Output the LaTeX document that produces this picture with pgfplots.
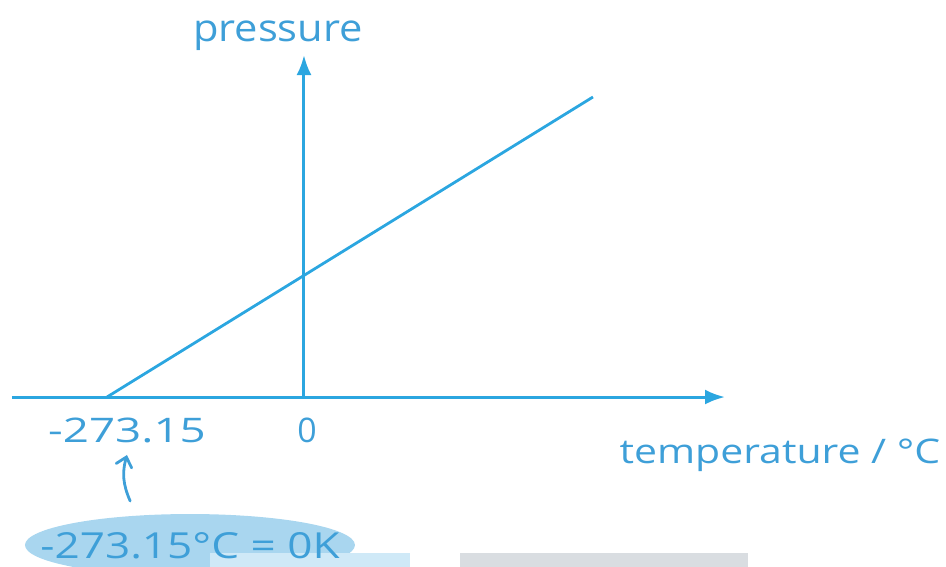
\documentclass[border=0pt]{standalone}
\usepackage{fontspec}
\setmainfont{Open Sans}
\usepackage{pgfplots}
\pgfplotsset{compat=1.18}
\usetikzlibrary{arrows.meta}
\definecolor{ink}{HTML}{2BA6E0}
\definecolor{txt}{HTML}{3E9FD8}
\definecolor{hl}{HTML}{A9D6EF}
\definecolor{hl2}{HTML}{CFE9F7}
\definecolor{gr}{HTML}{D9DDE1}
\begin{document}
\begin{tikzpicture}
\begin{axis}[
  scale only axis, width=946bp, height=567bp,
  xmin=-421.5, xmax=890.2, ymin=-1.393, ymax=3.254,
  axis line style={draw=none}, ticks=none,
  clip=true,
]
% highlight blob and bottom bars
\fill[hl] (axis cs:-158.1,-1.213) ellipse [x radius=165bp, y radius=31bp];
\fill[hl2] (axis cs:-130.3,-1.279) rectangle (axis cs:147.0,-1.40);
\fill[gr] (axis cs:216.3,-1.279) rectangle (axis cs:615.6,-1.40);
% axes
\draw[ink, line width=3bp, -{Latex[length=20bp,width=15bp]}] (axis cs:-404.9,0) -- (axis cs:583.8,0);
\draw[ink, line width=3bp, -{Latex[length=20bp,width=15bp]}] (axis cs:0,0) -- (axis cs:0,2.803);
% data line
\addplot[ink, line width=2.8bp] coordinates {(-273.15,0) (400.7,2.459)};
% labels
\node[txt, anchor=base, font=\fontsize{38}{44}\selectfont, xscale=1.1] at (axis cs:-36.1,2.910) {pressure};
\node[txt, anchor=base, font=\fontsize{34}{40}\selectfont, xscale=1.35] at (axis cs:-245.4,-0.369) {-273.15};
\node[txt, anchor=base, font=\fontsize{34}{40}\selectfont] at (axis cs:4.2,-0.369) {0};
\node[txt, anchor=base, font=\fontsize{34}{40}\selectfont, xscale=1.21] at (axis cs:660.0,-0.541) {temperature / °C};
\draw[txt, line width=2.8bp, line cap=round, -{Straight Barb[length=9bp,width=16bp,line cap=round]}] (axis cs:-241.0,-0.852) to[bend left=20] (axis cs:-245.4,-0.475);
\node[txt, anchor=base, font=\fontsize{36}{42}\selectfont, xscale=1.23] at (axis cs:-158.1,-1.320) {-273.15°C = 0K};
\end{axis}
\pgfresetboundingbox
\path (current axis.south west) rectangle (current axis.north east);
\end{tikzpicture}
\end{document}
